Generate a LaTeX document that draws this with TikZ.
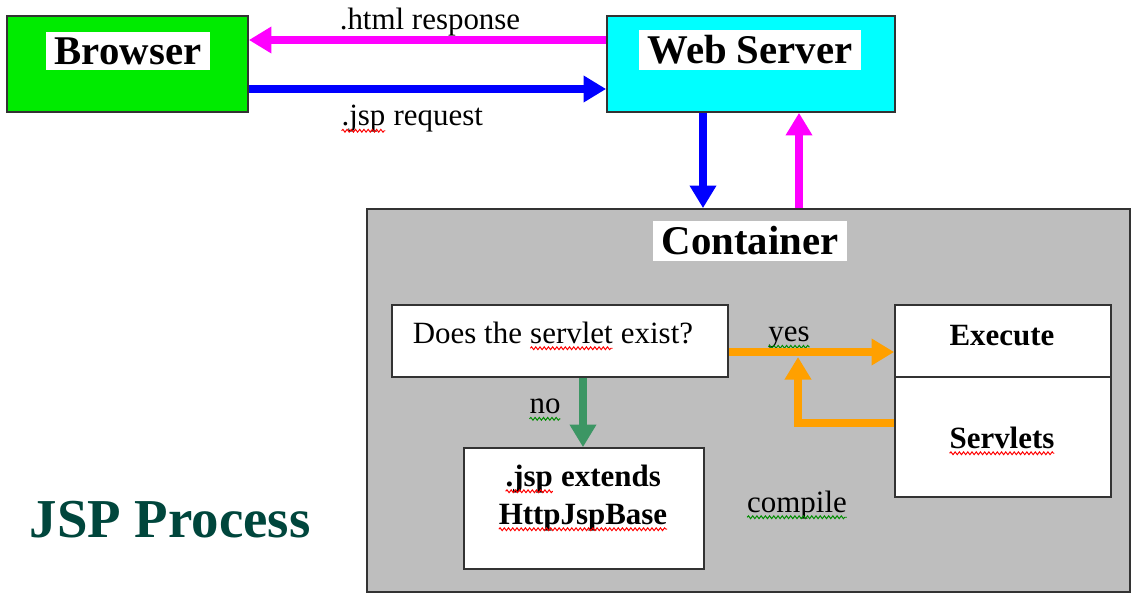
\documentclass[tikz,border=0pt]{standalone}
\usepackage{fontspec}
\setmainfont{Liberation Serif}
\usetikzlibrary{arrows.meta, decorations.pathmorphing}

\definecolor{browsergreen}{RGB}{0,235,0}
\definecolor{servercyan}{RGB}{0,255,255}
\definecolor{containergray}{RGB}{190,190,190}
\definecolor{respmagenta}{RGB}{255,0,255}
\definecolor{reqblue}{RGB}{0,0,255}
\definecolor{yesorange}{RGB}{255,160,0}
\definecolor{nogreen}{RGB}{60,150,100}
\definecolor{headingteal}{RGB}{0,70,60}

% wavy spell-check underline
\newcommand\spellwave[2]{%
  \tikz[baseline = (w.base)]{%
    \node[inner sep = 0pt, outer sep = 0pt] (w) {#2};
    \draw[#1, line width = 0.7pt, decorate,
      decoration = {snake, amplitude = 1pt, segment length = 3pt}]
      ([yshift = -3.5pt]w.base west) -- ([yshift = -3.5pt]w.base east);}}
\newcommand\redwave[1]{\spellwave{red}{#1}}
\newcommand\greenwave[1]{\spellwave{green!55!black}{#1}}

\begin{document}
\begin{tikzpicture}[
  x = 0.025cm,
  y = -0.025cm,
  box/.style = {
    draw = black!80,
    line width = 1.2pt,
    inner sep = 0pt
  },
  title/.style = {
    fill = white,
    inner xsep = 6pt,
    inner ysep = 4pt,
    font = \fontsize{29}{34}\selectfont\bfseries
  },
  txt/.style = {
    inner sep = 0pt,
    font = \fontsize{22}{27}\selectfont
  },
  boldtxt/.style = {
    txt,
    font = \fontsize{22}{27}\selectfont\bfseries
  },
  flow/.style = {
    line width = 5pt,
    -{Triangle[length = 16pt, width = 18pt]}
  }
]
  \useasboundingbox (0, 0) rectangle (1134, 593);

  \node[box, fill = browsergreen, minimum width = 6.025cm, minimum height = 2.4cm] (browser) at (127.5, 64) {};
  \node[box, fill = servercyan, minimum width = 7.2cm, minimum height = 2.4cm] (server) at (751, 64) {};
  \node[box, fill = containergray, minimum width = 19.075cm, minimum height = 9.575cm] (container) at (748.5, 400.5) {};

  \node[box, fill = white, minimum width = 8.4cm, minimum height = 1.8cm] (exists) at (560, 341) {};
  \node[box, fill = white, minimum width = 5.4cm, minimum height = 1.8cm] (execute) at (1003, 341) {};
  \node[box, fill = white, minimum width = 5.4cm, minimum height = 3cm] (servlets) at (1003, 437) {};
  \node[box, fill = white, minimum width = 6cm, minimum height = 3.025cm] (jspbox) at (584, 508.5) {};

  \node[title] (browserlbl) at (128, 51) {Browser};
  \node[title] (serverlbl) at (750, 50) {Web Server};
  \node[title] (containerlbl) at (750, 241) {Container};

  \node[txt] (existstxt) at (553, 336) {Does the \redwave{servlet} exist?};
  \node[boldtxt] (executetxt) at (1002, 336) {Execute};
  \node[boldtxt] (servletstxt) at (1002, 441) {\redwave{Servlets}};
  \node[boldtxt, align = center] (jsptxt) at (583, 498) {\redwave{.jsp} extends\\\redwave{HttpJspBase}};

  \node[txt] (resplbl) at (430, 22) {.html response};
  \node[txt] (reqlbl) at (412, 119) {\redwave{.jsp} request};
  \node[txt] (yeslbl) at (789, 338) {\greenwave{yes}};
  \node[txt] (nolbl) at (545, 410) {\greenwave{no}};
  \node[txt] (compilelbl) at (797, 505) {\greenwave{compile}};

  \node[text = headingteal, font = \fontsize{39}{44}\selectfont\bfseries] (heading) at (170, 520) {JSP Process};

  \draw[flow, respmagenta] (server.west |- 0, 40) -- (browser.east |- 0, 40);
  \draw[flow, reqblue] (browser.east |- 0, 89) -- (server.west |- 0, 89);
  \draw[flow, reqblue] (server.south -| 703, 0) -- (container.north -| 703, 0);
  \draw[flow, respmagenta] (container.north -| 799, 0) -- (server.south -| 799, 0);

  \draw[flow, nogreen] (exists.south -| 583, 0) -- (jspbox.north -| 583, 0);
  \draw[flow, yesorange] (exists.east |- 0, 352) -- (execute.west |- 0, 352);
  \coordinate (merge) at (798, 357);
  \draw[flow, yesorange] (servlets.west |- 0, 423) -| (merge);
\end{tikzpicture}
\end{document}
